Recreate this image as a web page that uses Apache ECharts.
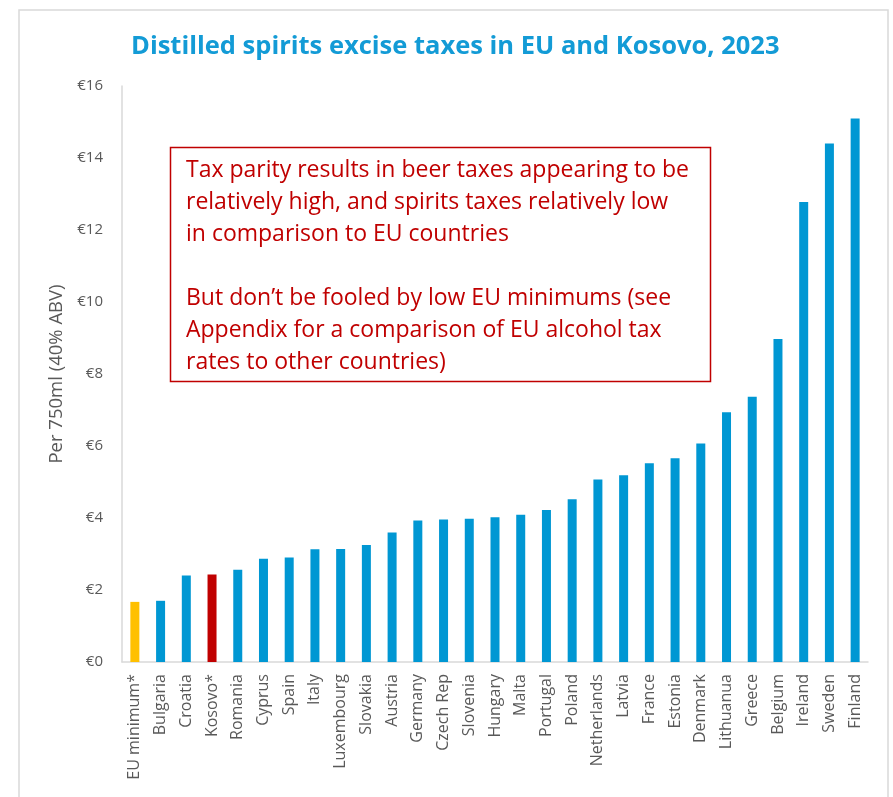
<!DOCTYPE html>
<html>
<head>
<meta charset="utf-8">
<script src="https://cdn.jsdelivr.net/npm/echarts@6/dist/echarts.min.js"></script>
<style>
  html, body { margin: 0; padding: 0; background: #fff; }
  #chart { width: 893px; height: 797px; }
</style>
</head>
<body>
<div id="chart"></div>
<script>
// Excise on a 750ml bottle of 40% ABV spirits, EUR, 2023
const categories = [
  'EU minimum*', 'Bulgaria', 'Croatia', 'Kosovo*', 'Romania', 'Cyprus', 'Spain', 'Italy',
  'Luxembourg', 'Slovakia', 'Austria', 'Germany', 'Czech Rep', 'Slovenia', 'Hungary', 'Malta',
  'Portugal', 'Poland', 'Netherlands', 'Latvia', 'France', 'Estonia', 'Denmark', 'Lithuanua',
  'Greece', 'Belgium', 'Ireland', 'Sweden', 'Finland'
];
const taxPer750ml = [
  1.67, 1.70, 2.40, 2.43, 2.56, 2.87, 2.90, 3.13,
  3.14, 3.25, 3.60, 3.93, 3.96, 3.98, 4.02, 4.09,
  4.22, 4.52, 5.07, 5.19, 5.52, 5.66, 6.07, 6.94,
  7.37, 8.97, 12.78, 14.40, 15.10
];
const highlight = { 'EU minimum*': '#FFC000', 'Kosovo*': '#C00000' };
const yTicks = { min: 0, max: 16, interval: 2 };

const chartTitle = 'Distilled spirits excise taxes in EU and Kosovo, 2023';
const yAxisName = 'Per 750ml (40% ABV)';
const noteLines = [
  'Tax parity results in beer taxes appearing to be',
  'relatively high, and spirits taxes relatively low',
  'in comparison to EU countries',
  '',
  'But don\u2019t be fooled by low EU minimums (see',
  'Appendix for a comparison of EU alcohol tax',
  'rates to other countries)'
];

const BLUE = '#0097D3';
const GREY = '#595959';

const chart = echarts.init(document.getElementById('chart'));
chart.setOption({
  backgroundColor: '#ffffff',
  animation: false,
  title: {
    text: chartTitle,
    left: 126,
    top: 29,
    textStyle: {
      fontFamily: 'Open Sans',
      fontWeight: 'bold',
      fontSize: 25.5,
      color: '#139BD6'
    }
  },
  grid: { left: 122, right: 25, top: 86, bottom: 135, containLabel: false },
  xAxis: {
    type: 'category',
    data: categories,
    axisLine: { lineStyle: { color: '#D9D9D9', width: 1.5 } },
    axisTick: { show: false },
    axisLabel: {
      rotate: 90,
      interval: 0,
      margin: 12,
      fontFamily: 'Open Sans',
      fontSize: 16,
      color: GREY
    }
  },
  yAxis: {
    type: 'value',
    min: yTicks.min,
    max: yTicks.max,
    interval: yTicks.interval,
    name: yAxisName,
    nameLocation: 'middle',
    nameGap: 50,
    nameRotate: 90,
    nameTextStyle: { fontFamily: 'Open Sans', fontSize: 18.5, color: GREY },
    axisLine: { show: true, lineStyle: { color: '#D9D9D9', width: 1.5 } },
    axisTick: { show: false },
    splitLine: { show: false },
    axisLabel: {
      formatter: v => '\u20AC' + v,
      margin: 19,
      fontFamily: 'Open Sans',
      fontSize: 15,
      color: GREY
    }
  },
  series: [{
    type: 'bar',
    barWidth: 9,
    data: taxPer750ml.map((v, i) => ({
      value: v,
      itemStyle: { color: highlight[categories[i]] || BLUE }
    }))
  }],
  graphic: [
    {
      type: 'rect',
      shape: { x: 19, y: 10, width: 869, height: 800 },
      style: { fill: 'none', stroke: '#D9D9D9', lineWidth: 1.5 },
      silent: true
    },
    {
      type: 'rect',
      shape: { x: 170.5, y: 147.5, width: 540, height: 234 },
      style: { fill: '#ffffff', stroke: '#C00000', lineWidth: 1.5 },
      z: 10
    },
    {
      type: 'text',
      x: 186,
      y: 154,
      z: 11,
      style: {
        text: noteLines.join('\n'),
        fontFamily: 'Open Sans',
        fontSize: 23,
        lineHeight: 32,
        fill: '#C00000'
      }
    }
  ]
});
</script>
</body>
</html>
